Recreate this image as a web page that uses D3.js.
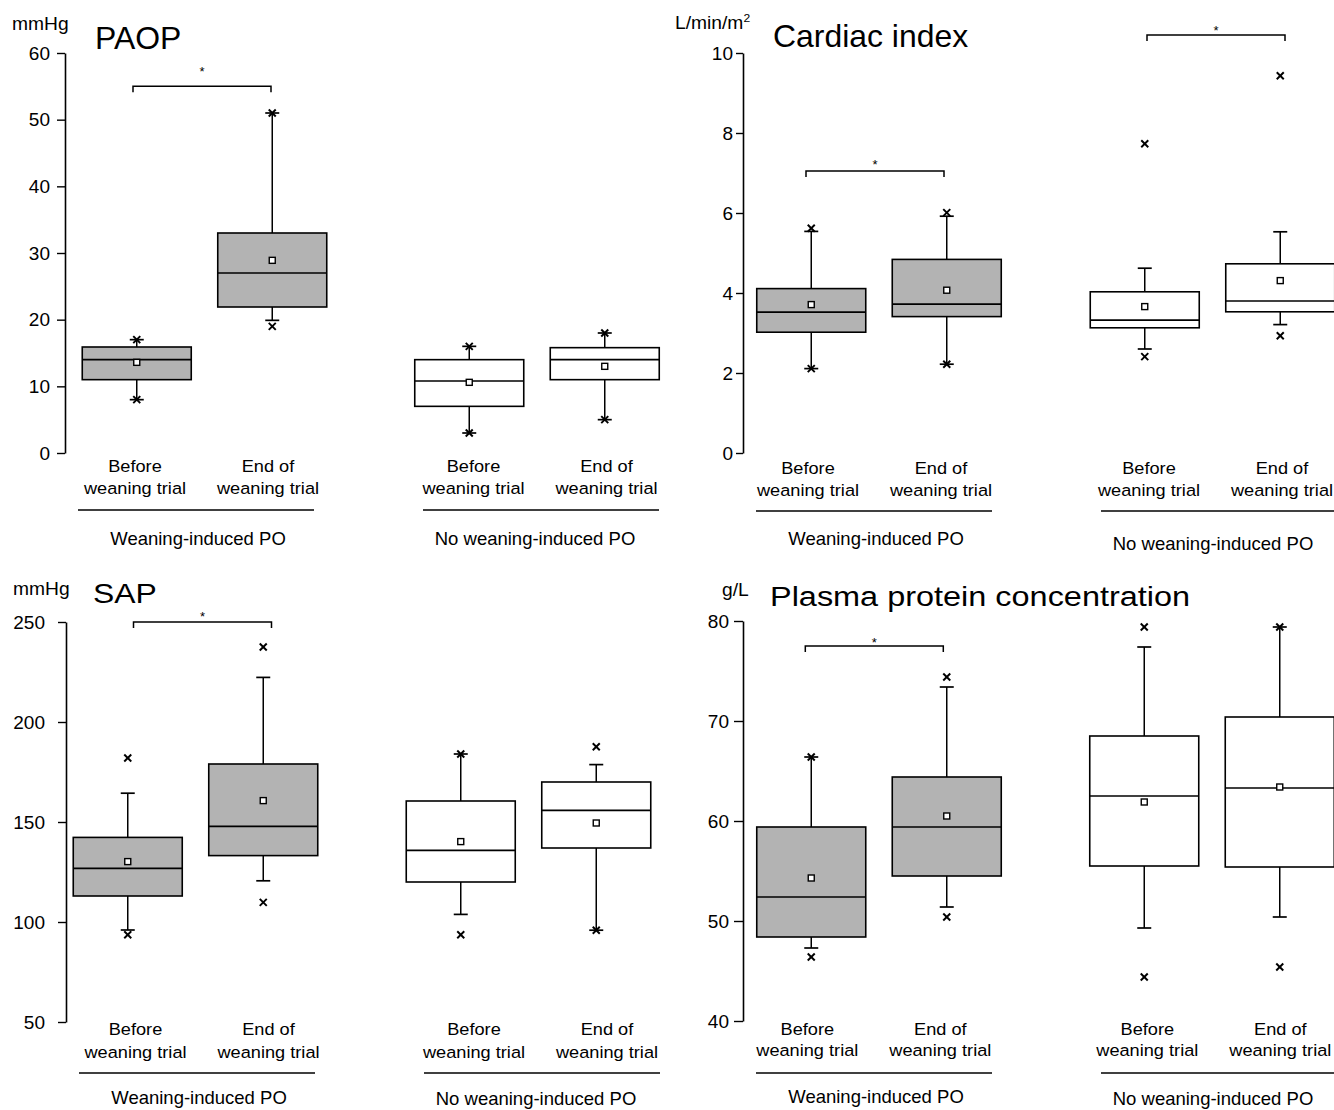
<!DOCTYPE html>
<html><head><meta charset="utf-8">
<script src="https://cdn.jsdelivr.net/npm/d3@7"></script>
<style>
body{margin:0;background:#fff}
svg{display:block}
text{font-family:"Liberation Sans",Arial,Helvetica,sans-serif;fill:#000}
</style>
</head><body>
<svg id="chart" width="1334" height="1110"></svg>
<script>
// ---------- categories ----------
const groups = ["Weaning-induced PO", "No weaning-induced PO"];
const timepoints = ["Before", "End of"];
const timepointLabels = [["Before", "weaning trial"], ["End of", "weaning trial"]];

// order of boxes: [PO before, PO end, no-PO before, no-PO end]
// ---------- PAOP (mmHg) ----------
const paopTicks  = [0, 10, 20, 30, 40, 50, 60];
const paopLow    = [8, 19.9, 3, 5];
const paopQ1     = [11, 21.9, 7, 11];
const paopMedian = [14, 27, 10.8, 14];
const paopQ3     = [15.9, 33, 14, 15.8];
const paopHigh   = [17, 51, 16, 18];
const paopMean   = [13.6, 28.9, 10.6, 13];
const paopMin    = [8, 19, 3, 5];
const paopMax    = [17, 51, 16, 18];
const paopBrackets = [55, null];

// ---------- Cardiac index (L/min/m2) ----------
const ciTicks  = [0, 2, 4, 6, 8, 10];
const ciLow    = [2.11, 2.22, 2.6, 3.21];
const ciQ1     = [3.02, 3.41, 3.13, 3.53];
const ciMedian = [3.52, 3.72, 3.32, 3.8];
const ciQ3     = [4.11, 4.84, 4.03, 4.73];
const ciHigh   = [5.54, 5.92, 4.62, 5.53];
const ciMean   = [3.71, 4.07, 3.66, 4.31];
const ciMin    = [2.11, 2.22, 2.41, 2.93];
const ciMax    = [5.62, 6.01, 7.73, 9.43];
const ciBrackets = [7.05, 10.45];

// ---------- SAP (mmHg) ----------
const sapTicks  = [50, 100, 150, 200, 250];
const sapLow    = [96, 120.6, 103.8, 95.9];
const sapQ1     = [113, 133.2, 120, 137];
const sapMedian = [126.8, 147.8, 135.8, 155.8];
const sapQ3     = [142.3, 179, 160.5, 170];
const sapHigh   = [164.4, 222.3, 184, 178.7];
const sapMean   = [130.2, 160.7, 140.2, 149.5];
const sapMin    = [93.6, 109.8, 93.6, 95.9];
const sapMax    = [182, 237.5, 184, 187.6];
const sapBrackets = [250, null];

// ---------- Plasma protein concentration (g/L) ----------
const ppTicks  = [40, 50, 60, 70, 80];
const ppLow    = [47.3, 51.4, 49.3, 50.4];
const ppQ1     = [48.4, 54.5, 55.5, 55.4];
const ppMedian = [52.4, 59.4, 62.5, 63.3];
const ppQ3     = [59.4, 64.4, 68.5, 70.4];
const ppHigh   = [66.4, 73.4, 77.4, 79.4];
const ppMean   = [54.3, 60.5, 61.9, 63.4];
const ppMin    = [46.4, 50.4, 44.4, 45.4];
const ppMax    = [66.4, 74.4, 79.4, 79.4];
const ppBrackets = [77.5, null];

// ---------- panels (data + layout) ----------
const panels = [
  { title: "PAOP", unit: "mmHg", ticks: paopTicks, low: paopLow, q1: paopQ1, med: paopMedian, q3: paopQ3, high: paopHigh, mean: paopMean, min: paopMin, max: paopMax, brackets: paopBrackets,
    axisX: 65, yTop: 53, yBottom: 453, tickSize: 8, tickPad: 7,
    boxRange: [204.5, 537], labelRange: [201.5, 540],
    titleX: 95, titleY: 49, titleSize: 31, titleSx: 1.03, unitX: 12, unitY: 30,
    cat1: 472, cat2: 494, lineY: 510, groupY: [545, 545], starGap: [18, 0] },
  { title: "Cardiac index", unit: "L/min/m", unitSup: "2", ticks: ciTicks, low: ciLow, q1: ciQ1, med: ciMedian, q3: ciQ3, high: ciHigh, mean: ciMean, min: ciMin, max: ciMax, brackets: ciBrackets,
    axisX: 743, yTop: 53, yBottom: 453, tickSize: 7, tickPad: 3,
    boxRange: [879, 1212.5], labelRange: [874.5, 1215.5],
    titleX: 773, titleY: 47, titleSize: 31, titleSx: 1.03, unitX: 675, unitY: 29,
    cat1: 474, cat2: 496, lineY: 511, groupY: [545, 550], starGap: [10, 8] },
  { title: "SAP", unit: "mmHg", ticks: sapTicks, low: sapLow, q1: sapQ1, med: sapMedian, q3: sapQ3, high: sapHigh, mean: sapMean, min: sapMin, max: sapMax, brackets: sapBrackets,
    axisX: 66, yTop: 622, yBottom: 1022, tickSize: 8, tickPad: 13,
    boxRange: [195.5, 528.5], labelRange: [202, 540.5],
    titleX: 93, titleY: 603, titleSize: 27, titleSx: 1.18, unitX: 13, unitY: 595,
    cat1: 1035, cat2: 1058, lineY: 1073, groupY: [1104, 1105], starGap: [9, 0] },
  { title: "Plasma protein concentration", unit: "g/L", ticks: ppTicks, low: ppLow, q1: ppQ1, med: ppMedian, q3: ppQ3, high: ppHigh, mean: ppMean, min: ppMin, max: ppMax, brackets: ppBrackets,
    axisX: 743, yTop: 621, yBottom: 1021, tickSize: 9, tickPad: 5,
    boxRange: [879, 1212], labelRange: [873.8, 1213.8],
    titleX: 770, titleY: 606, titleSize: 27.5, titleSx: 1.18, unitX: 722, unitY: 596,
    cat1: 1035, cat2: 1056, lineY: 1073, groupY: [1103, 1105], starGap: [7, 0] }
];

const GRAY = "#b3b3b3";
const svg = d3.select("#chart");

function txt(sel, x, y, str, size, anchor, sx) {
  return sel.append("text")
    .attr("transform", `translate(${x},${y}) scale(${sx || 1},1)`)
    .attr("text-anchor", anchor || "start")
    .attr("font-size", size)
    .text(str);
}

function drawPanel(p) {
  const g = svg.append("g");
  const y = d3.scaleLinear().domain(d3.extent(p.ticks)).range([p.yBottom, p.yTop]);
  const gx = d3.scalePoint().domain(groups).range(p.boxRange);
  const tx = d3.scalePoint().domain(timepoints).range([-67.75, 67.75]);
  const lgx = d3.scalePoint().domain(groups).range(p.labelRange);
  const lx = d3.scalePoint().domain(timepoints).range([-66.5, 66.5]);
  const boxW = 109;

  // axis
  const axis = d3.axisLeft(y).tickValues(p.ticks).tickSize(p.tickSize).tickSizeOuter(0).tickPadding(p.tickPad);
  const ag = g.append("g").attr("transform", `translate(${p.axisX},0)`).call(axis);
  ag.attr("font-size", null).attr("font-family", null);
  ag.select(".domain").attr("stroke", "#000").attr("stroke-width", 1.6);
  ag.selectAll(".tick line").attr("stroke", "#000").attr("stroke-width", 1.4);
  ag.selectAll(".tick text").attr("font-size", 19).attr("fill", "#000");

  // unit & title
  const u = txt(g, p.unitX, p.unitY, p.unit, 17.5, "start", 1.1);
  if (p.unitSup) u.append("tspan").attr("font-size", 11).attr("dy", -7).text(p.unitSup);
  txt(g, p.titleX, p.titleY, p.title, p.titleSize, "start", p.titleSx);

  const boxes = [];
  groups.forEach((gr, gi) => timepoints.forEach((t, ti) => {
    const i = gi * 2 + ti;
    boxes.push({ gi, ti, cx: gx(gr) + tx(t), lx: lgx(gr) + lx(t),
      low: p.low[i], q1: p.q1[i], med: p.med[i], q3: p.q3[i], high: p.high[i],
      mean: p.mean[i], min: p.min[i], max: p.max[i] });
  }));

  const line = (x1, y1, x2, y2, w) => g.append("line")
    .attr("x1", x1).attr("y1", y1).attr("x2", x2).attr("y2", y2)
    .attr("stroke", "#000").attr("stroke-width", w || 1.5);

  boxes.forEach(b => {
    line(b.cx, y(b.low), b.cx, y(b.q1));
    line(b.cx, y(b.q3), b.cx, y(b.high));
    line(b.cx - 7, y(b.low), b.cx + 7, y(b.low), 1.7);
    line(b.cx - 7, y(b.high), b.cx + 7, y(b.high), 1.7);
    g.append("rect").attr("x", b.cx - boxW / 2).attr("y", y(b.q3))
      .attr("width", boxW).attr("height", y(b.q1) - y(b.q3))
      .attr("fill", b.gi === 0 ? GRAY : "#fff").attr("stroke", "#000").attr("stroke-width", 1.6);
    line(b.cx - boxW / 2, y(b.med), b.cx + boxW / 2, y(b.med), 1.7);
    g.append("rect").attr("x", b.cx - 3).attr("y", y(b.mean) - 3).attr("width", 6).attr("height", 6)
      .attr("fill", "#fff").attr("stroke", "#000").attr("stroke-width", 1.4);
    [b.min, b.max].forEach(v => {
      const yy = y(v);
      line(b.cx - 3.5, yy - 3.5, b.cx + 3.5, yy + 3.5, 2);
      line(b.cx - 3.5, yy + 3.5, b.cx + 3.5, yy - 3.5, 2);
    });
    const lab = timepointLabels[b.ti];
    txt(g, b.lx, p.cat1, lab[0], 17, "middle", 1.07);
    txt(g, b.lx, p.cat2, lab[1], 17, "middle", 1.07);
  });

  groups.forEach((gr, gi) => {
    const c = p.axisX + (gi === 0 ? 131 : 476);
    line(c - 118, p.lineY, c + 118, p.lineY, 1.6);
    txt(g, p.axisX + (gi === 0 ? 133 : 470), p.groupY[gi], gr, 18.5, "middle", 1);
  });

  p.brackets.forEach((v, gi) => {
    if (v == null) return;
    const bx = boxes.filter(b => b.gi === gi);
    const x1 = bx[0].lx - 2, x2 = bx[1].lx + 3, yy = y(v);
    g.append("path").attr("d", `M${x1},${yy + 6}V${yy}H${x2}V${yy + 6}`)
      .attr("fill", "none").attr("stroke", "#000").attr("stroke-width", 1.5);
    txt(g, (x1 + x2) / 2, yy - p.starGap[gi] + 8, "*", 13, "middle", 1);
  });
}

panels.forEach(drawPanel);
</script>
</body></html>
